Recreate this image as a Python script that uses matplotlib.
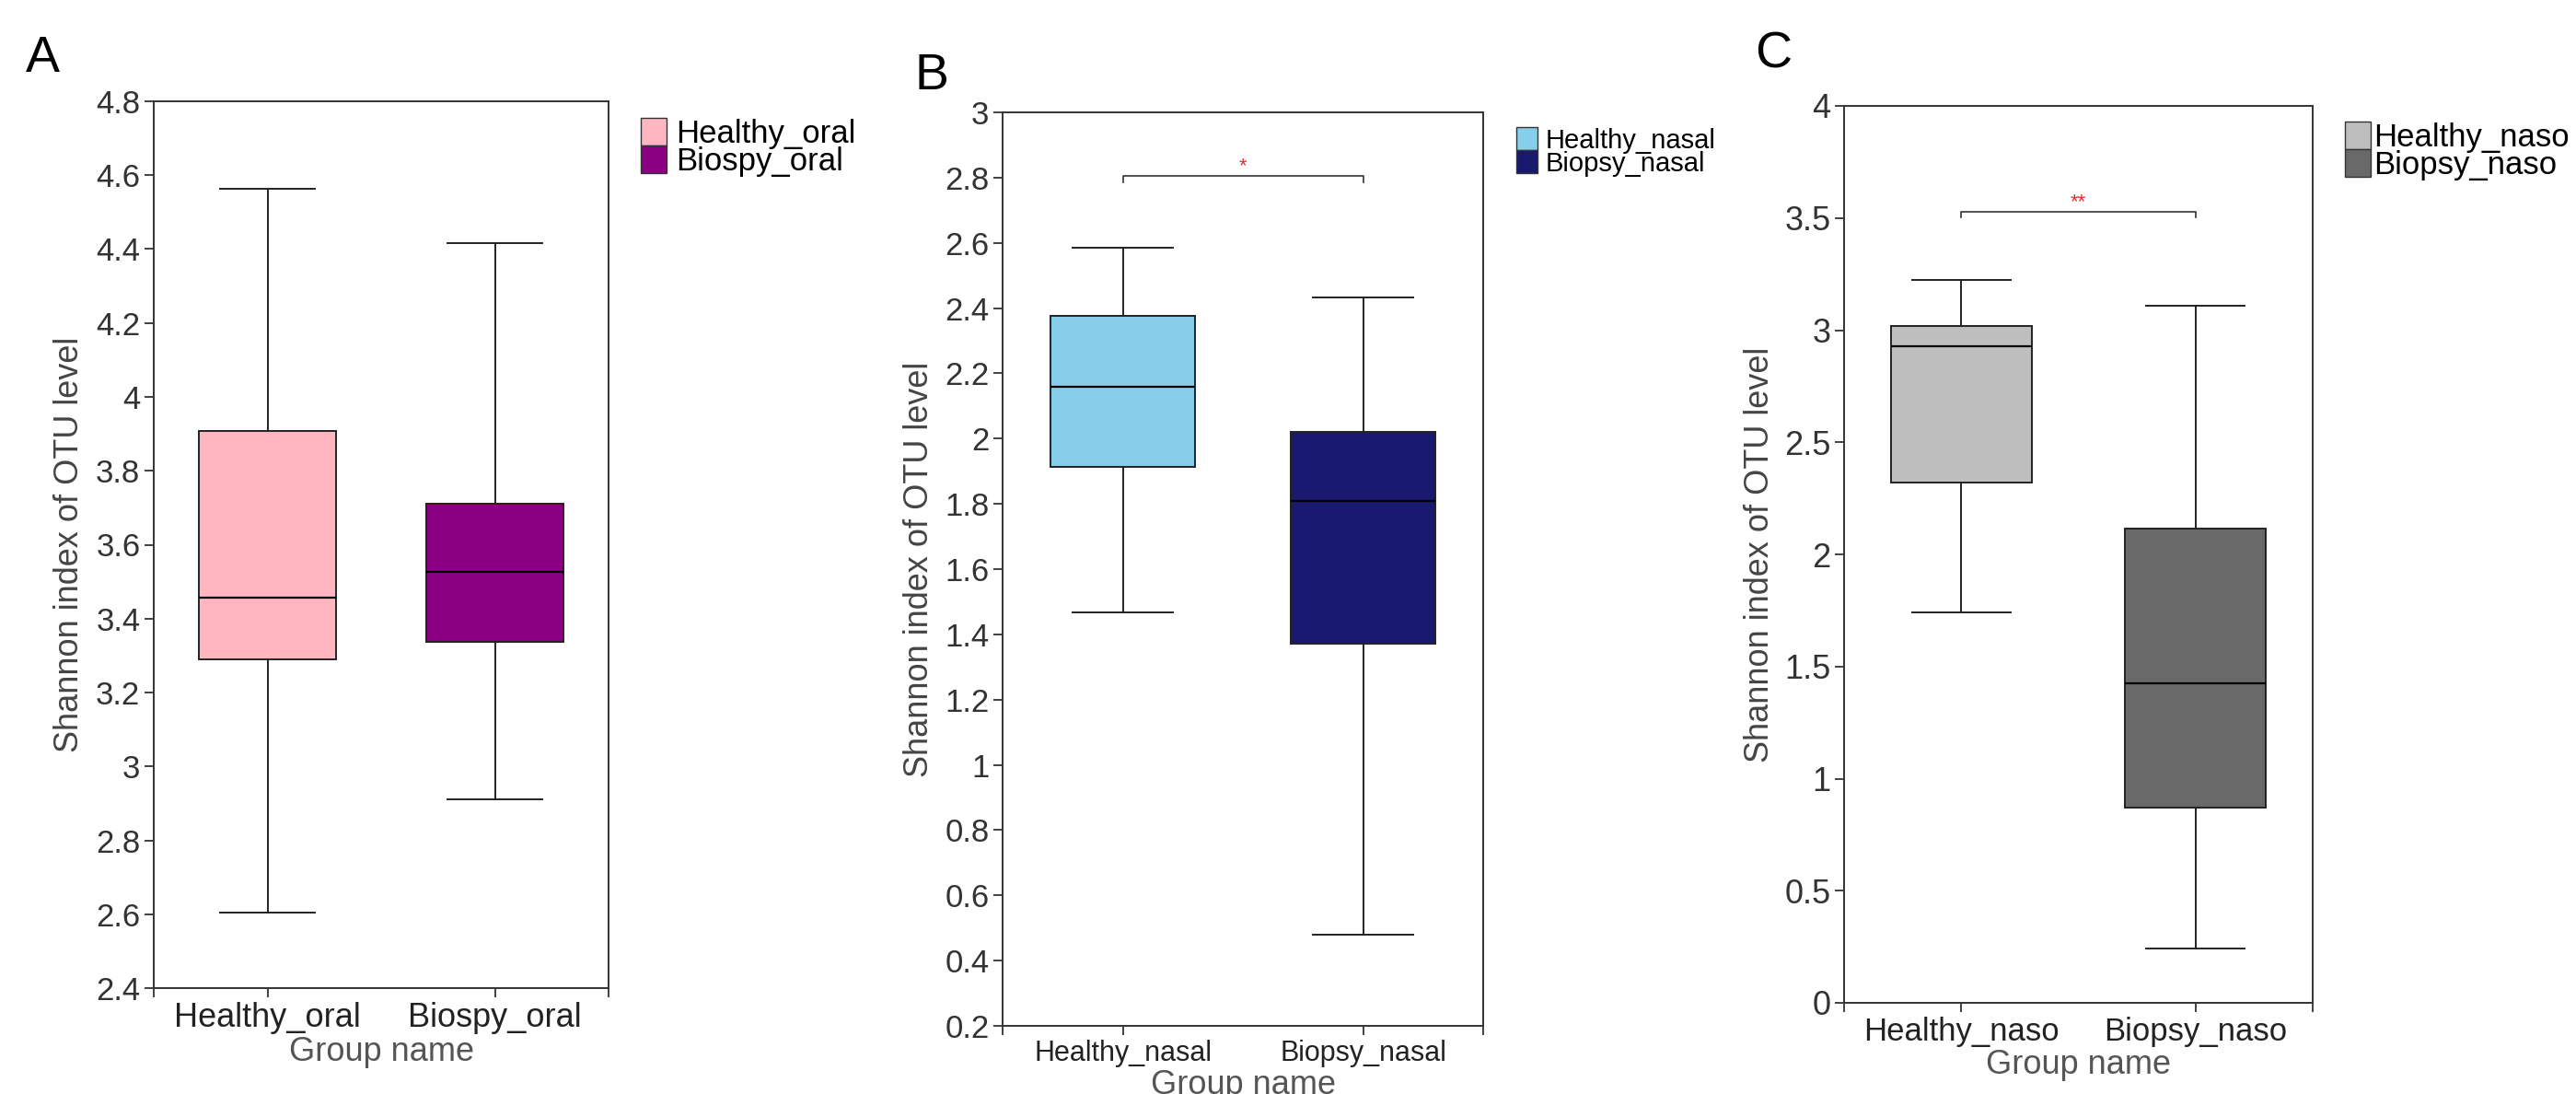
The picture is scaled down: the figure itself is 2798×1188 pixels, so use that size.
import matplotlib
matplotlib.use("Agg")
import matplotlib.pyplot as plt
from matplotlib.patches import Patch

plt.rcParams['font.family'] = ['Liberation Sans', 'DejaVu Sans']

W, H = 2798, 1188
DPI = 100

# ---- data ----
groups_a = ["Healthy_oral", "Biospy_oral"]
whislo_a = [2.604, 2.910]
q1_a = [3.289, 3.337]
med_a = [3.456, 3.526]
q3_a = [3.907, 3.711]
whishi_a = [4.564, 4.417]
colors_a = ["#FFB6C1", "#8B0083"]
yticks_a = [2.4, 2.6, 2.8, 3.0, 3.2, 3.4, 3.6, 3.8, 4.0, 4.2, 4.4, 4.6, 4.8]

groups_b = ["Healthy_nasal", "Biopsy_nasal"]
whislo_b = [1.466, 0.480]
q1_b = [1.912, 1.370]
med_b = [2.159, 1.809]
q3_b = [2.375, 2.020]
whishi_b = [2.584, 2.434]
colors_b = ["#87CEEB", "#191970"]
yticks_b = [0.2, 0.4, 0.6, 0.8, 1.0, 1.2, 1.4, 1.6, 1.8, 2.0, 2.2, 2.4, 2.6, 2.8, 3.0]
sig_b = 2.806
sig_label_b = "*"

groups_c = ["Healthy_naso", "Biopsy_naso"]
whislo_c = [1.743, 0.243]
q1_c = [2.322, 0.871]
med_c = [2.929, 1.426]
q3_c = [3.019, 2.117]
whishi_c = [3.222, 3.107]
colors_c = ["#BEBEBE", "#696969"]
yticks_c = [0, 0.5, 1.0, 1.5, 2.0, 2.5, 3.0, 3.5, 4.0]
sig_c = 3.527
sig_label_c = "**"

fig = plt.figure(figsize=(W / DPI, H / DPI), dpi=DPI)


def px_axes(l, r, t, b):
    return fig.add_axes([l / W, (H - b) / H, (r - l) / W, (b - t) / H])


def fmt(v):
    s = ("%.1f" % v)
    if s.endswith(".0"):
        s = s[:-2]
    return s


def panel(ax, groups, lo, q1, med, q3, hi, colors, yticks, ylim, letter,
          letter_xy, legend_anchor, ytick_fs=25, xtick_fs=26, leg_fs=25,
          ylab_x=-0.15, xlabpad=2, handletextpad=0.3,
          sig=None, sig_label=None, sig_drop=0.0):
    stats = []
    for i in range(len(groups)):
        stats.append(dict(med=med[i], q1=q1[i], q3=q3[i], whislo=lo[i],
                          whishi=hi[i], label=groups[i], fliers=[]))
    bp = ax.bxp(stats, positions=[1, 2], widths=0.6, patch_artist=True,
                showfliers=False,
                boxprops=dict(linewidth=1.4, edgecolor="#222222"),
                medianprops=dict(color="black", linewidth=1.6),
                whiskerprops=dict(color="#222222", linewidth=1.4),
                capprops=dict(color="#222222", linewidth=1.4),
                capwidths=0.42)
    for patch, c in zip(bp['boxes'], colors):
        patch.set_facecolor(c)
    ax.set_xlim(0.5, 2.5)
    ax.set_ylim(*ylim)
    ax.set_yticks(yticks)
    ax.set_yticklabels([fmt(v) for v in yticks])
    ax.set_xticks([1, 2])
    ax.set_xticks([0.5, 2.5], minor=True)
    ax.set_xticklabels(groups)
    ax.tick_params(axis='both', which='both', length=7.5, width=1.3,
                   color="#333333")
    ax.tick_params(axis='y', labelsize=ytick_fs, labelcolor="#333333", pad=3)
    ax.tick_params(axis='x', labelsize=xtick_fs, labelcolor="#222222", pad=3)
    for s in ax.spines.values():
        s.set_linewidth(1.4)
        s.set_color("#333333")
    ax.set_ylabel("Shannon index of OTU level", fontsize=26, color="#444444")
    ax.yaxis.set_label_coords(ylab_x, 0.5)
    ax.set_xlabel("Group name", fontsize=26, color="#555555", labelpad=xlabpad)
    fig.text(letter_xy[0] / W, 1 - letter_xy[1] / H, letter, fontsize=40,
             ha="left", va="top", color="black")
    handles = [Patch(facecolor=c, edgecolor="#333333", linewidth=1.0, label=g)
               for g, c in zip(groups, colors)]
    ax.legend(handles=handles, loc="upper left",
              bbox_to_anchor=(legend_anchor[0] / W, 1 - legend_anchor[1] / H),
              bbox_transform=fig.transFigure, frameon=False,
              fontsize=leg_fs, handlelength=0.8, handleheight=0.95,
              handletextpad=handletextpad, labelspacing=-0.12, borderpad=0,
              borderaxespad=0)
    if sig is not None:
        ax.plot([1, 1, 2, 2], [sig - sig_drop, sig, sig, sig - sig_drop],
                color="#333333", linewidth=1.2)
        ax.text(1.5, sig, sig_label, color="#E03030", fontsize=16,
                ha="center", va="bottom")


ax_a = px_axes(167, 661, 110, 1073)
panel(ax_a, groups_a, whislo_a, q1_a, med_a, q3_a, whishi_a, colors_a,
      yticks_a, (2.4, 4.8), "A", (28, 38), (696, 128),
      ytick_fs=25, xtick_fs=26, leg_fs=25, ylab_x=-0.150)

ax_b = px_axes(1089, 1611, 122, 1114)
panel(ax_b, groups_b, whislo_b, q1_b, med_b, q3_b, whishi_b, colors_b,
      yticks_b, (0.2, 3.0), "B", (994, 57), (1647, 138),
      ytick_fs=25, xtick_fs=22, leg_fs=21, ylab_x=-0.140,
      sig=sig_b, sig_label=sig_label_b, sig_drop=0.02)

ax_c = px_axes(2003, 2512, 115, 1089)
panel(ax_c, groups_c, whislo_c, q1_c, med_c, q3_c, whishi_c, colors_c,
      yticks_c, (0, 4.0), "C", (1906, 34), (2547, 132),
      ytick_fs=26, xtick_fs=25, leg_fs=25, ylab_x=-0.145, handletextpad=0.1,
      sig=sig_c, sig_label=sig_label_c, sig_drop=0.025)

fig.savefig("out.png", dpi=DPI, facecolor="white")
